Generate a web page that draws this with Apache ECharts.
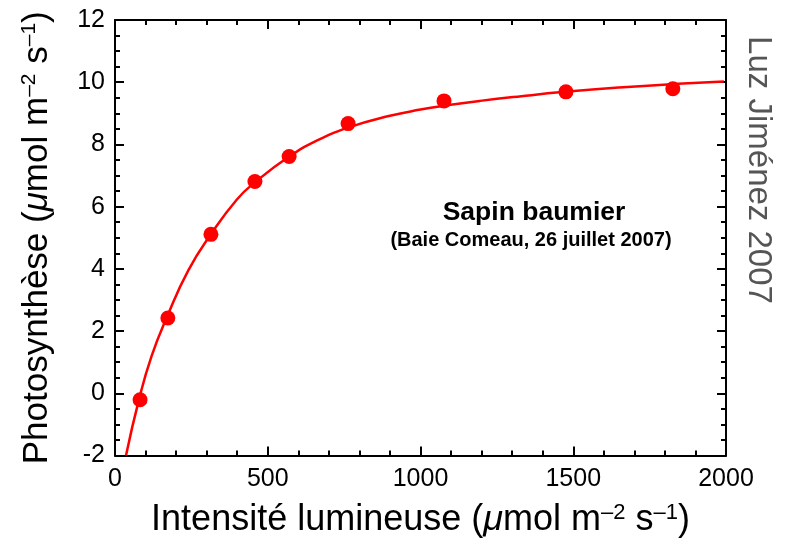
<!DOCTYPE html>
<html>
<head>
<meta charset="utf-8">
<script src="https://cdn.jsdelivr.net/npm/echarts@6/dist/echarts.min.js"></script>
<style>html,body{margin:0;padding:0;background:#fff;}#chart{width:786px;height:543px;}</style>
</head>
<body>
<div id="chart"></div>
<script>
// Measured points
var lightX = [82, 173, 314, 458, 570, 763, 1077, 1476, 1826];
var photoY = [-0.21, 2.42, 5.11, 6.81, 7.61, 8.67, 9.40, 9.69, 9.79];
// Fitted curve
var curveX = [36, 79, 120, 170, 240, 314, 399, 458, 570, 660, 763, 900, 1000, 1074, 1195, 1330, 1473, 1650, 1826, 1993];
var curveY = [-2.0, -0.18, 1.2, 2.45, 3.95, 5.11, 6.23, 6.78, 7.61, 8.12, 8.54, 8.92, 9.12, 9.24, 9.40, 9.55, 9.69, 9.83, 9.94, 10.02];
var xTicks = [0, 500, 1000, 1500, 2000];
var yTicks = [-2, 0, 2, 4, 6, 8, 10, 12];

var FONT = '"Liberation Sans", Arial, Helvetica, sans-serif';
var chart = echarts.init(document.getElementById('chart'));

function pairs(a, b) { return a.map(function (v, i) { return [v, b[i]]; }); }
function plain(v) { return String(v); }

var lineStyle = { color: '#000', width: 2 };
function titleRich(fs) {
  return {
    n: { fontSize: fs, fontFamily: FONT, color: '#000' },
    mu: { fontSize: fs, fontFamily: FONT, fontStyle: 'italic', color: '#000' },
    sup: { fontSize: Math.round(fs * 0.6), fontFamily: FONT, color: '#000', verticalAlign: 'top', padding: [0, 0, 15, 0] }
  };
}
var titleText = function (s) {
  return '{n|' + s + ' (}{mu|\u03bc}{n|mol m}{sup|\u20132}{n| s}{sup|\u20131}{n|)}';
};

var baseX = {
  type: 'value', min: xTicks[0], max: xTicks[xTicks.length - 1], interval: 500,
  axisLine: { show: true, onZero: false, lineStyle: lineStyle },
  axisTick: { show: true, inside: true, length: 9, lineStyle: lineStyle },
  minorTick: { show: true, splitNumber: 5, length: 5, lineStyle: lineStyle },
  splitLine: { show: false }
};
var baseY = {
  type: 'value', min: yTicks[0], max: yTicks[yTicks.length - 1], interval: 2,
  axisLine: { show: true, onZero: false, lineStyle: lineStyle },
  axisTick: { show: true, inside: true, length: 9, lineStyle: lineStyle },
  minorTick: { show: true, splitNumber: 4, length: 5, lineStyle: lineStyle },
  splitLine: { show: false }
};

chart.setOption({
  animation: false,
  backgroundColor: '#fff',
  grid: { left: 115, right: 60, top: 20, bottom: 86, containLabel: false },
  xAxis: [
    Object.assign({}, baseX, {
      position: 'bottom',
      axisLabel: { fontSize: 25, fontFamily: FONT, color: '#000', margin: 11, formatter: plain },
      name: titleText('Intensit\u00e9 lumineuse'),
      nameLocation: 'middle', nameGap: 46,
      nameTextStyle: { rich: titleRich(36) }
    }),
    Object.assign({}, baseX, { position: 'top', axisLabel: { show: false } })
  ],
  yAxis: [
    Object.assign({}, baseY, {
      position: 'left',
      axisLabel: { fontSize: 25, fontFamily: FONT, color: '#000', margin: 10, formatter: plain },
      name: titleText('Photosynth\u00e8se'),
      nameLocation: 'middle', nameGap: 60, nameRotate: 90,
      nameTextStyle: { rich: titleRich(35) }
    }),
    Object.assign({}, baseY, { position: 'right', axisLabel: { show: false } })
  ],
  graphic: [
    { type: 'text',
      style: { text: 'Sapin baumier', x: 534, y: 213, align: 'center', verticalAlign: 'middle',
               font: 'bold 26.5px ' + FONT, fill: '#000' } },
    { type: 'text',
      style: { text: '(Baie Comeau, 26 juillet 2007)', x: 531, y: 240, align: 'center', verticalAlign: 'middle',
               font: 'bold 20px ' + FONT, fill: '#000' } },
    { type: 'text', x: 758, y: 170, rotation: -Math.PI / 2,
      style: { text: 'Luz Jim\u00e9nez 2007', x: 0, y: 0, align: 'center', verticalAlign: 'middle',
               font: '33px ' + FONT, fill: '#555' } }
  ],
  series: [
    { type: 'line', data: pairs(curveX, curveY), smooth: 0.5, showSymbol: false, symbol: 'none',
      lineStyle: { color: '#ff0000', width: 2.5 }, clip: true, z: 2 },
    { type: 'scatter', data: pairs(lightX, photoY), symbol: 'circle', symbolSize: 15,
      itemStyle: { color: '#ff0000', opacity: 1 }, z: 3 }
  ]
});
</script>
</body>
</html>
